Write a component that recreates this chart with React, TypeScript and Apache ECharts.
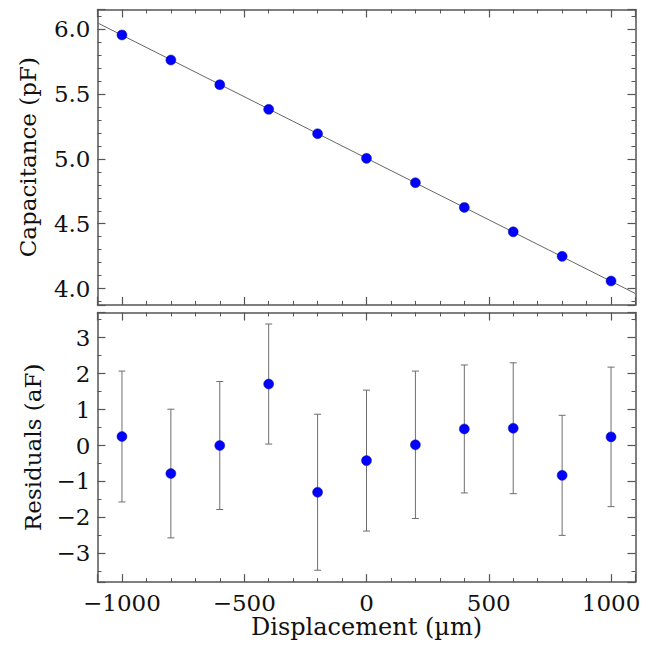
import React, { useEffect, useRef } from "react";
import * as echarts from "echarts";

const displacement = [-1000, -800, -600, -400, -200, 0, 200, 400, 600, 800, 1000];
const capacitance = [5.954, 5.761, 5.571, 5.381, 5.193, 5.004, 4.816, 4.626, 4.438, 4.249, 4.059];
const fitX = [-1100, 1100];
const fitY = [6.047, 3.962];
const residuals = [0.25, -0.78, 0.0, 1.71, -1.3, -0.42, 0.02, 0.46, 0.48, -0.83, 0.24];
const residualErr = [1.82, 1.79, 1.78, 1.67, 2.17, 1.96, 2.05, 1.78, 1.82, 1.67, 1.94];

const FONT = "DejaVu Serif";
const FS = 23;
const FRAME = "#555555";

export default function App() {
  const ref = useRef<HTMLDivElement>(null);
  useEffect(() => {
    if (!ref.current) return;
    const chart = echarts.init(ref.current, undefined, { renderer: "svg" });

    const gridL = 97.5;
    const gridR = 20.5;
    const tickBase = (showLabel: boolean, pos: string) => ({
      axisLine: { show: true, onZero: false, lineStyle: { color: FRAME, width: 1.5 } },
      axisTick: { show: true, inside: true, length: 8, lineStyle: { color: FRAME, width: 1.2 } },
      minorTick: { show: true, length: 4, lineStyle: { color: FRAME, width: 1 } },
      splitLine: { show: false },
      minorSplitLine: { show: false },
      axisLabel: {
        show: showLabel,
        showMinLabel: false,
        showMaxLabel: false,
        fontFamily: FONT,
        fontSize: FS,
        color: "#111",
        margin: pos === "x" ? 9 : 7,
      },
    });

    const mkX = (gridIndex: number, position: string, showLabel: boolean, extra: any = {}) => {
      const b: any = tickBase(showLabel, "x");
      b.minorTick.splitNumber = 5;
      return {
        type: "value",
        gridIndex,
        position,
        min: -1100,
        max: 1100,
        ...b,
        axisLabel: {
          ...b.axisLabel,
          formatter: (v: number) => (v < 0 ? "\u2212" + Math.abs(v) : String(v)),
        },
        ...extra,
      };
    };
    const mkY = (gridIndex: number, position: string, showLabel: boolean, min: number, max: number, minorSplit: number, splitNumber: number, extra: any = {}) => {
      const b: any = tickBase(showLabel, "y");
      b.minorTick.splitNumber = minorSplit;
      return {
        type: "value",
        gridIndex,
        position,
        min,
        max,
        splitNumber,
        ...b,
        axisLabel: { ...b.axisLabel, ...(extra.axisLabel || {}) },
        ...Object.fromEntries(Object.entries(extra).filter(([k]) => k !== "axisLabel")),
      };
    };

    const errData = displacement.map((x, i) => [x, residuals[i] - residualErr[i], residuals[i] + residualErr[i]]);

    const option: any = {
      animation: false,
      grid: [
        { left: gridL, right: gridR, top: 9.5, height: 295.4, containLabel: false },
        { left: gridL, right: gridR, top: 312.5, height: 269.6, containLabel: false },
      ],
      xAxis: [
        mkX(0, "bottom", false),
        mkX(0, "top", false),
        mkX(1, "bottom", true, {
          name: "Displacement (\u00b5m)",
          nameLocation: "middle",
          nameGap: 33,
          nameTextStyle: { fontFamily: FONT, fontSize: 24, color: "#111" },
        }),
        mkX(1, "top", false),
      ],
      yAxis: [
        mkY(0, "left", true, 3.875, 6.15, 5, 5, {
          name: "Capacitance (pF)",
          nameLocation: "middle",
          nameGap: 58,
          nameTextStyle: { fontFamily: FONT, fontSize: FS, color: "#111" },
          axisLabel: { formatter: (v: number) => v.toFixed(1) },
        }),
        mkY(0, "right", false, 3.875, 6.15, 5, 5),
        mkY(1, "left", true, -3.8, 3.7, 2, 8, {
          name: "Residuals (aF)",
          nameLocation: "middle",
          nameGap: 53,
          nameTextStyle: { fontFamily: FONT, fontSize: FS, color: "#111" },
          axisLabel: { formatter: (v: number) => (v < 0 ? "\u2212" + Math.abs(v) : String(v)) },
        }),
        mkY(1, "right", false, -3.8, 3.7, 2, 8),
      ],
      series: [
        {
          type: "line",
          xAxisIndex: 0,
          yAxisIndex: 0,
          data: fitX.map((x, i) => [x, fitY[i]]),
          symbol: "none",
          lineStyle: { color: "#666", width: 1 },
          z: 1,
        },
        {
          type: "scatter",
          xAxisIndex: 0,
          yAxisIndex: 0,
          data: displacement.map((x, i) => [x, capacitance[i]]),
          symbol: "circle",
          symbolSize: 10,
          itemStyle: { color: "#0000ff", borderColor: "#1a1a8c", borderWidth: 0.5, opacity: 1 },
          z: 3,
        },
        {
          type: "custom",
          xAxisIndex: 2,
          yAxisIndex: 2,
          data: errData,
          z: 1,
          renderItem: (params: any, api: any) => {
            const x = api.value(0);
            const lo = api.coord([x, api.value(1)]);
            const hi = api.coord([x, api.value(2)]);
            const cap = 3.5;
            const style = { stroke: "#6e6e6e", lineWidth: 1 };
            return {
              type: "group",
              children: [
                { type: "line", shape: { x1: lo[0], y1: lo[1], x2: hi[0], y2: hi[1] }, style },
                { type: "line", shape: { x1: lo[0] - cap, y1: lo[1], x2: lo[0] + cap, y2: lo[1] }, style },
                { type: "line", shape: { x1: hi[0] - cap, y1: hi[1], x2: hi[0] + cap, y2: hi[1] }, style },
              ],
            };
          },
        },
        {
          type: "scatter",
          xAxisIndex: 2,
          yAxisIndex: 2,
          data: displacement.map((x, i) => [x, residuals[i]]),
          symbol: "circle",
          symbolSize: 10,
          itemStyle: { color: "#0000ff", borderColor: "#1a1a8c", borderWidth: 0.5, opacity: 1 },
          z: 3,
        },
      ],
    };
    chart.setOption(option);
    return () => chart.dispose();
  }, []);
  return <div ref={ref} style={{ width: 656, height: 660, margin: -8 }} />;
}
